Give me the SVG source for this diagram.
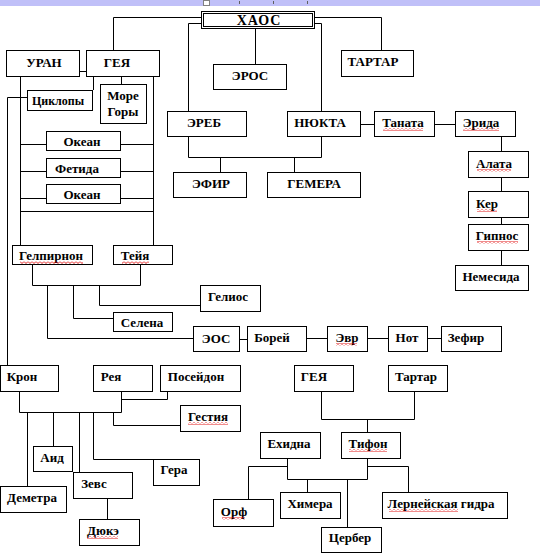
<svg xmlns="http://www.w3.org/2000/svg" width="540" height="559" viewBox="0 0 540 559">
<style>
.b{fill:#fff;stroke:#000;stroke-width:1}
.c{fill:none;stroke:#000;stroke-width:1}
text{font-family:"Liberation Serif","Times New Roman",serif;font-weight:bold;font-size:13px;fill:#000;text-anchor:middle}
.sm{font-size:12px}
.sq{fill:url(#sq)}
</style>
<defs>
<pattern id="sq" width="4" height="3" patternUnits="userSpaceOnUse">
<path d="M0,0.5 L2,2.5 L4,0.5" fill="none" stroke="#e00000" stroke-width="0.9"/>
</pattern>
</defs>
<rect x="0" y="0" width="540" height="559" fill="#fff"/>
<g id="toolbar">
<rect x="0" y="0" width="540" height="6" fill="#c0c0f8"/>
<rect x="203.5" y="0.5" width="6" height="5" fill="#fff" stroke="#808080"/>
<path d="M239.5,1V4M273.5,1V4M307.5,1V4" stroke="#606060" stroke-width="1"/>
</g>
<g id="connectors" class="c">
<polyline points="201,17.5 113.5,17.5 113.5,50"/>
<polyline points="315,17.5 381.5,17.5 381.5,50"/>
<polyline points="201,23.5 188.5,23.5 188.5,111"/>
<polyline points="315,23.5 321.5,23.5 321.5,111"/>
<polyline points="255.5,29 255.5,64"/>
<polyline points="80,71.5 86,71.5"/>
<polyline points="20.5,77 20.5,245"/>
<polyline points="153.5,77 153.5,245"/>
<polyline points="93.5,77 93.5,90"/>
<polyline points="121.5,77 121.5,84"/>
<polyline points="27,97.5 7.5,97.5 7.5,365"/>
<polyline points="20.5,144.5 46,144.5"/>
<polyline points="121,144.5 153.5,144.5"/>
<polyline points="20.5,171.5 46,171.5"/>
<polyline points="121,171.5 153.5,171.5"/>
<polyline points="20.5,198.5 46,198.5"/>
<polyline points="121,198.5 153.5,198.5"/>
<polyline points="20.5,211.5 153.5,211.5"/>
<polyline points="32.5,265 32.5,285.5 140.5,285.5 140.5,265"/>
<polyline points="47.5,285.5 47.5,338.5 193,338.5"/>
<polyline points="73.5,285.5 73.5,318.5 113,318.5"/>
<polyline points="99.5,285.5 99.5,305.5 200,305.5"/>
<polyline points="240,339.5 247,339.5"/>
<polyline points="307,338.5 327,338.5"/>
<polyline points="368,338.5 388,338.5"/>
<polyline points="428,338.5 441,338.5"/>
<polyline points="188.5,137 188.5,157.5 321.5,157.5 321.5,137"/>
<polyline points="220.5,157.5 220.5,172"/>
<polyline points="294.5,157.5 294.5,172"/>
<polyline points="361,124.5 374,124.5"/>
<polyline points="435,124.5 455,124.5"/>
<polyline points="501.5,137 501.5,151"/>
<polyline points="501.5,178 501.5,191"/>
<polyline points="501.5,218 501.5,224"/>
<polyline points="501.5,251 501.5,265"/>
<polyline points="19.5,392 19.5,412.5 121.5,412.5 121.5,392"/>
<polyline points="167.5,392 167.5,399.5 121.5,399.5"/>
<polyline points="27.5,412.5 27.5,486"/>
<polyline points="53.5,412.5 53.5,446"/>
<polyline points="79.5,412.5 79.5,472"/>
<polyline points="93.5,412.5 93.5,459.5 153,459.5"/>
<polyline points="113.5,412.5 113.5,425.5 180,425.5"/>
<polyline points="107.5,499 107.5,519"/>
<polyline points="321.5,392 321.5,419.5 414.5,419.5 414.5,392"/>
<polyline points="367.5,419.5 367.5,432"/>
<polyline points="287.5,459 287.5,479.5 367.5,479.5 367.5,459"/>
<polyline points="287.5,466.5 248.5,466.5 248.5,499"/>
<polyline points="367.5,466.5 408.5,466.5 408.5,492"/>
<polyline points="307.5,479.5 307.5,492"/>
<polyline points="347.5,479.5 347.5,527"/>
</g>
<g id="haos"><rect class="b" x="201.5" y="11.5" width="113" height="17"/><rect class="b" x="203.5" y="13.5" width="109" height="13"/><text x="259" y="25" style="font-size:14px;letter-spacing:1px">ХАОС</text></g>
<g id="eros"><rect class="b" x="213.5" y="64.5" width="73" height="25"/><text x="250" y="80">ЭРОС</text></g>
<g id="tartar"><rect class="b" x="341.5" y="50.5" width="72" height="26"/><text x="373" y="66">ТАРТАР</text></g>
<g id="uran"><rect class="b" x="6.5" y="50.5" width="73" height="26"/><text x="44" y="67">УРАН</text></g>
<g id="geya"><rect class="b" x="86.5" y="50.5" width="73" height="26"/><text x="117" y="67">ГЕЯ</text></g>
<g id="ciklopy"><rect class="b" x="27.5" y="90.5" width="65" height="20"/><text class="sm" x="58" y="105">Циклопы</text></g>
<g id="more"><rect class="b" x="100.5" y="84.5" width="46" height="39"/><text x="123" y="100">Море</text><text x="123" y="116">Горы</text></g>
<g id="okean1"><rect class="b" x="46.5" y="131.5" width="74" height="19"/><text x="82" y="146">Океан</text></g>
<g id="fetida"><rect class="b" x="46.5" y="158.5" width="74" height="19"/><text x="77" y="173">Фетида</text></g>
<g id="okean2"><rect class="b" x="46.5" y="184.5" width="74" height="19"/><text x="82" y="199">Океан</text></g>
<g id="ereb"><rect class="b" x="167.5" y="111.5" width="79" height="25"/><text x="204" y="127">ЭРЕБ</text></g>
<g id="nyukta"><rect class="b" x="287.5" y="111.5" width="73" height="25"/><text x="320" y="127">НЮКТА</text></g>
<g id="tanata"><rect class="b" x="374.5" y="111.5" width="60" height="25"/><text x="403" y="127">Таната</text><rect class="sq" x="383" y="128" width="40" height="3"/></g>
<g id="erida"><rect class="b" x="455.5" y="111.5" width="60" height="25"/><text x="481" y="127">Эрида</text><rect class="sq" x="463" y="128" width="36" height="3"/></g>
<g id="efir"><rect class="b" x="173.5" y="172.5" width="73" height="25"/><text x="211" y="188">ЭФИР</text></g>
<g id="gemera"><rect class="b" x="267.5" y="172.5" width="93" height="25"/><text x="314" y="188">ГЕМЕРА</text></g>
<g id="alata"><rect class="b" x="468.5" y="151.5" width="60" height="26"/><text x="494" y="168">Алата</text><rect class="sq" x="477" y="169" width="34" height="3"/></g>
<g id="ker"><rect class="b" x="468.5" y="191.5" width="60" height="26"/><text x="487" y="208">Кер</text><rect class="sq" x="477" y="209" width="20" height="3"/></g>
<g id="gipnos"><rect class="b" x="468.5" y="224.5" width="60" height="26"/><text x="497" y="240">Гипнос</text><rect class="sq" x="477" y="241" width="41" height="3"/></g>
<g id="nemesida"><rect class="b" x="455.5" y="265.5" width="73" height="25"/><text x="491" y="281">Немесида</text></g>
<g id="gelpirnon"><rect class="b" x="12.5" y="245.5" width="80" height="19"/><text x="51" y="260">Гелпирнон</text><rect class="sq" x="20" y="261" width="63" height="3"/></g>
<g id="teyya"><rect class="b" x="113.5" y="245.5" width="59" height="19"/><text x="135" y="260">Тейя</text><rect class="sq" x="122" y="261" width="27" height="3"/></g>
<g id="gelios"><rect class="b" x="200.5" y="285.5" width="60" height="26"/><text x="228" y="301">Гелиос</text></g>
<g id="selena"><rect class="b" x="113.5" y="312.5" width="59" height="19"/><text x="142" y="327">Селена</text></g>
<g id="eos"><rect class="b" x="193.5" y="326.5" width="46" height="25"/><text x="216" y="343">ЭОС</text></g>
<g id="borey"><rect class="b" x="247.5" y="326.5" width="59" height="25"/><text x="272" y="342">Борей</text></g>
<g id="evr"><rect class="b" x="327.5" y="326.5" width="40" height="25"/><text x="347" y="342">Эвр</text><rect class="sq" x="336" y="343" width="21" height="3"/></g>
<g id="not"><rect class="b" x="388.5" y="326.5" width="39" height="25"/><text x="407" y="342">Нот</text></g>
<g id="zefir"><rect class="b" x="441.5" y="326.5" width="60" height="25"/><text x="466" y="342">Зефир</text></g>
<g id="kron"><rect class="b" x="0.5" y="365.5" width="58" height="26"/><text x="22" y="381">Крон</text></g>
<g id="reya"><rect class="b" x="93.5" y="365.5" width="59" height="26"/><text x="111" y="381">Рея</text></g>
<g id="poseydon"><rect class="b" x="160.5" y="365.5" width="80" height="26"/><text x="196" y="381">Посейдон</text></g>
<g id="gestiya"><rect class="b" x="180.5" y="405.5" width="60" height="26"/><text x="208" y="421">Гестия</text><rect class="sq" x="188" y="422" width="40" height="3"/></g>
<g id="aid"><rect class="b" x="33.5" y="446.5" width="39" height="25"/><text x="52" y="462">Аид</text></g>
<g id="zevs"><rect class="b" x="73.5" y="472.5" width="59" height="26"/><text x="94" y="488">Зевс</text></g>
<g id="gera"><rect class="b" x="153.5" y="459.5" width="46" height="26"/><text x="174" y="474">Гера</text></g>
<g id="demetra"><rect class="b" x="0.5" y="486.5" width="66" height="26"/><text x="32" y="502">Деметра</text></g>
<g id="dyuke"><rect class="b" x="79.5" y="519.5" width="60" height="26"/><text x="103" y="535">Дюкэ</text><rect class="sq" x="87" y="536" width="31" height="3"/></g>
<g id="geya2"><rect class="b" x="294.5" y="365.5" width="59" height="26"/><text x="314" y="381">ГЕЯ</text></g>
<g id="tartar2"><rect class="b" x="388.5" y="365.5" width="59" height="26"/><text x="416" y="381">Тартар</text></g>
<g id="ehidna"><rect class="b" x="260.5" y="432.5" width="60" height="26"/><text x="289" y="448">Ехидна</text></g>
<g id="tifon"><rect class="b" x="341.5" y="432.5" width="59" height="26"/><text x="368" y="448">Тифон</text><rect class="sq" x="349" y="449" width="38" height="3"/></g>
<g id="orf"><rect class="b" x="213.5" y="499.5" width="60" height="27"/><text x="234" y="516">Орф</text><rect class="sq" x="222" y="517" width="23" height="3"/></g>
<g id="himera"><rect class="b" x="280.5" y="492.5" width="60" height="26"/><text x="310" y="508">Химера</text></g>
<g id="cerber"><rect class="b" x="321.5" y="527.5" width="60" height="25"/><text x="350" y="542">Цербер</text></g>
<g id="lerneyskaya"><rect class="b" x="382.5" y="492.5" width="125" height="26"/><text x="441" y="508">Лернейская гидра</text><rect class="sq" x="389" y="509" width="69" height="3"/></g>
</svg>
